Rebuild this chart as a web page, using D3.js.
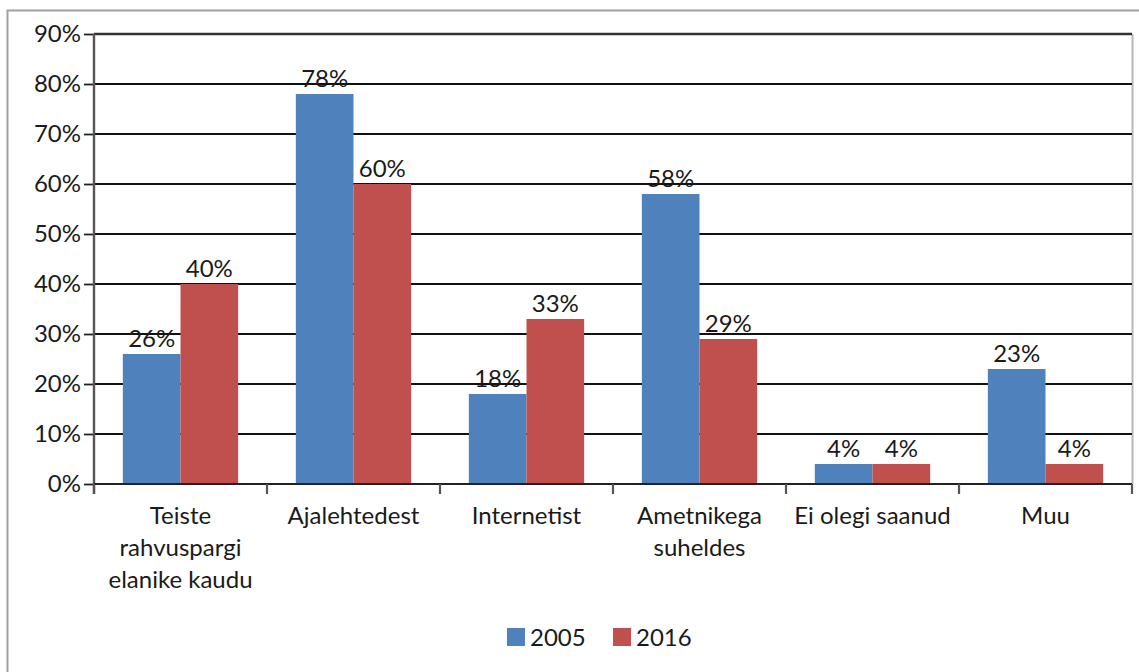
<!DOCTYPE html>
<html><head><meta charset="utf-8">
<script src="https://cdn.jsdelivr.net/npm/d3@7"></script>
<style>
html,body{margin:0;padding:0;background:#fff;}
svg{display:block;}
text{font-family:"Lato","Open Sans",sans-serif;fill:#1a1a1a;}
</style></head>
<body>
<svg id="chart" width="1139" height="672"></svg>
<script>
const categories = [["Teiste","rahvuspargi","elanike kaudu"],["Ajalehtedest"],["Internetist"],["Ametnikega","suheldes"],["Ei olegi saanud"],["Muu"]];
const seriesNames = ["2005","2016"];
const values2005 = [26,78,18,58,4,23];
const values2016 = [40,60,33,29,4,4];
const yTicks = [0,10,20,30,40,50,60,70,80,90];
const colors = ["#4F81BD","#C0504D"];

const svg = d3.select("#chart");
const W = 1139, H = 672;
const FS = 24;
const m = {left:94, right:W-1132, top:34, bottom:H-484};

// outer frame
svg.append("path").attr("d","M7.5,672 V10.5 H1139").attr("fill","none").attr("stroke","#a0a0a0").attr("stroke-width",2);

const x = d3.scaleBand().domain(d3.range(categories.length)).range([m.left, W-m.right]).paddingInner(0).paddingOuter(0);
const y = d3.scaleLinear().domain([0,90]).range([484,34]);
const xs = d3.scaleBand().domain([0,1]).range([0, x.bandwidth()]).paddingInner(0).paddingOuter(0.5);

// plot area right border
svg.append("line").attr("x1",1132.5).attr("x2",1132.5).attr("y1",34).attr("y2",484).attr("stroke","#b8b8b8").attr("stroke-width",2);

// gridlines
svg.append("g").selectAll("line").data(yTicks).join("line")
  .attr("x1",m.left).attr("x2",1132).attr("y1",d=>y(d)).attr("y2",d=>y(d))
  .attr("stroke",d=>d===90?"#333":"#111").attr("stroke-width",d=>d===90?2.4:1.8);

// bars
const series = [values2005, values2016];
series.forEach((vals,si)=>{
  const g = svg.append("g");
  g.selectAll("rect").data(vals).join("rect")
    .attr("x",(d,i)=>x(i)+xs(si)).attr("width",xs.bandwidth())
    .attr("y",d=>y(d)).attr("height",d=>y(0)-y(d)).attr("fill",colors[si]);
  g.selectAll("text").data(vals).join("text")
    .attr("x",(d,i)=>x(i)+xs(si)+xs.bandwidth()/2).attr("y",d=>y(d)-7)
    .attr("text-anchor","middle").attr("font-size",FS).text(d=>d+"%");
});

// y axis
const yAxis = d3.axisLeft(y).tickValues(yTicks).tickFormat(d=>d+"%").tickSize(10).tickPadding(3);
const ya = svg.append("g").attr("transform",`translate(${m.left},0)`).call(yAxis);
ya.select(".domain").remove();
ya.selectAll(".tick line").attr("stroke","#222").attr("stroke-width",1.8);
ya.selectAll(".tick text").attr("font-size",FS).attr("fill","#1a1a1a").style("font-family","Lato");
svg.append("line").attr("x1",m.left).attr("x2",m.left).attr("y1",34).attr("y2",494).attr("stroke","#555").attr("stroke-width",2.4);

// x axis
svg.append("line").attr("x1",m.left).attr("x2",1132).attr("y1",484).attr("y2",484).attr("stroke","#222").attr("stroke-width",2);
const xTickPos = d3.range(categories.length+1).map(i=> i<categories.length? x(i) : x(categories.length-1)+x.bandwidth());
svg.append("g").selectAll("line").data(xTickPos).join("line")
  .attr("x1",d=>d).attr("x2",d=>d).attr("y1",484).attr("y2",494).attr("stroke","#555").attr("stroke-width",2.2);

const cl = svg.append("g");
categories.forEach((lines,i)=>{
  const t = cl.append("text").attr("text-anchor","middle").attr("font-size",FS);
  lines.forEach((ln,j)=>{
    t.append("tspan").attr("x",x(i)+x.bandwidth()/2).attr("y",524+j*32).text(ln);
  });
});

// legend
const legend = svg.append("g");
const lx = [507,613];
seriesNames.forEach((s,i)=>{
  legend.append("rect").attr("x",lx[i]).attr("y",628).attr("width",18).attr("height",18).attr("fill",colors[i]);
  legend.append("text").attr("x",lx[i]+23).attr("y",646).attr("font-size",FS).text(s);
});
</script>
</body></html>
